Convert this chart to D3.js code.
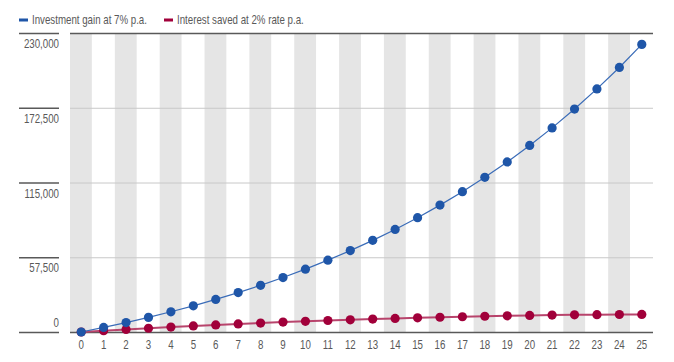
<!DOCTYPE html>
<html>
<head>
<meta charset="utf-8">
<script src="https://cdn.jsdelivr.net/npm/d3@7"></script>
<style>
  body { margin: 0; background: #fff; }
  svg { display: block; font-family: "Liberation Sans", Arial, sans-serif; }
</style>
</head>
<body>
<div id="chart"></div>
<script>
const years = d3.range(0, 26);
const investmentGain = [0, 3500, 7250, 11250, 15550, 20150, 25050, 30300, 35900, 41900,
  48350, 55250, 62600, 70500, 78900, 87950, 97600, 107950, 119000, 130800,
  143500, 157000, 171500, 187000, 203500, 221250];
const interestSaved = [0, 1000, 1950, 2900, 3800, 4650, 5450, 6200, 6900, 7600,
  8250, 8850, 9400, 9950, 10450, 10900, 11350, 11750, 12100, 12450,
  12750, 13000, 13200, 13350, 13450, 13500];
const yTicks = [0, 57500, 115000, 172500, 230000];
const seriesNames = ["Investment gain at 7% p.a.", "Interest saved at 2% rate p.a."];

const width = 674;
const height = 362;
const marginTop = 33;
const marginRight = 21;
const marginBottom = 30;
const marginLeft = 70;
const squeeze = 0.81; // fake a condensed face

const svg = d3.select("#chart")
  .append("svg")
    .attr("width", width)
    .attr("height", height);

const x = d3.scaleBand()
    .domain(years)
    .range([marginLeft, width - marginRight])
    .padding(0);
const y = d3.scaleLinear()
    .domain([0, 230000])
    .range([height - marginBottom, marginTop]);

// narrow text helper
function label(sel, tx, ty, anchor) {
  return sel.append("text")
    .attr("transform", `translate(${tx},${ty}) scale(${squeeze},1)`)
    .attr("text-anchor", anchor)
    .attr("font-size", 12)
    .attr("fill", "#595959");
}

// alternating grey columns
svg.append("g")
  .selectAll("rect")
  .data(years.filter(d => d % 2 === 0))
  .join("rect")
    .attr("x", d => x(d))
    .attr("y", marginTop)
    .attr("width", x.bandwidth() - 0.6)
    .attr("height", y(0) - marginTop)
    .attr("fill", "#e5e5e5");

// horizontal grid lines
svg.append("g")
  .selectAll("line")
  .data(yTicks.filter(d => d > 0 && d < 230000))
  .join("line")
    .attr("x1", marginLeft)
    .attr("x2", width - marginRight)
    .attr("y1", d => y(d) + 0.5)
    .attr("y2", d => y(d) + 0.5)
    .attr("stroke", "#c8c8c8");

// top and bottom rules
svg.append("g")
  .selectAll("line")
  .data([0, 230000])
  .join("line")
    .attr("x1", marginLeft)
    .attr("x2", width - marginRight)
    .attr("y1", d => y(d) + 0.5)
    .attr("y2", d => y(d) + 0.5)
    .attr("stroke", "#595959")
    .attr("stroke-width", 1.3);

// y axis: short rules with labels to the left
const yAxis = svg.append("g");
for (const t of yTicks) {
  yAxis.append("line")
      .attr("x1", 19)
      .attr("x2", 59)
      .attr("y1", y(t) + 0.5)
      .attr("y2", y(t) + 0.5)
      .attr("stroke", "#595959")
      .attr("stroke-width", 1.3);
  label(yAxis, 59, y(t) + (t === 0 ? -5 : 15), "end")
      .text(d3.format(",")(t));
}

// x axis labels
const xAxis = svg.append("g");
for (const yr of years) {
  label(xAxis, x(yr) + x.bandwidth() / 2, y(0) + 17, "middle").text(yr);
}

const cx = d => x(d) + x.bandwidth() / 2;

const series = [
  { name: seriesNames[1], values: interestSaved, color: "#a1003a", line: "#b8446c", lw: 2 },
  { name: seriesNames[0], values: investmentGain, color: "#1f56a8", line: "#3a6cb8", lw: 1.2 }
];

const line = d3.line()
    .x((d, i) => cx(years[i]))
    .y(d => y(d));

for (const s of series) {
  svg.append("path")
      .datum(s.values)
      .attr("fill", "none")
      .attr("stroke", s.line)
      .attr("stroke-width", s.lw)
      .attr("d", line);
  svg.append("g")
    .selectAll("circle")
    .data(s.values)
    .join("circle")
      .attr("cx", (d, i) => cx(years[i]))
      .attr("cy", d => y(d))
      .attr("r", 4.6)
      .attr("fill", s.color);
}

// legend
const legendItems = [
  { name: seriesNames[0], color: "#1f56a8", x: 19 },
  { name: seriesNames[1], color: "#a1003a", x: 164 }
];
const legend = svg.append("g");
for (const item of legendItems) {
  legend.append("rect")
      .attr("x", item.x)
      .attr("y", 18.5)
      .attr("width", 9)
      .attr("height", 3)
      .attr("fill", item.color);
  label(legend, item.x + 13, 24, "start").text(item.name);
}
</script>
</body>
</html>
